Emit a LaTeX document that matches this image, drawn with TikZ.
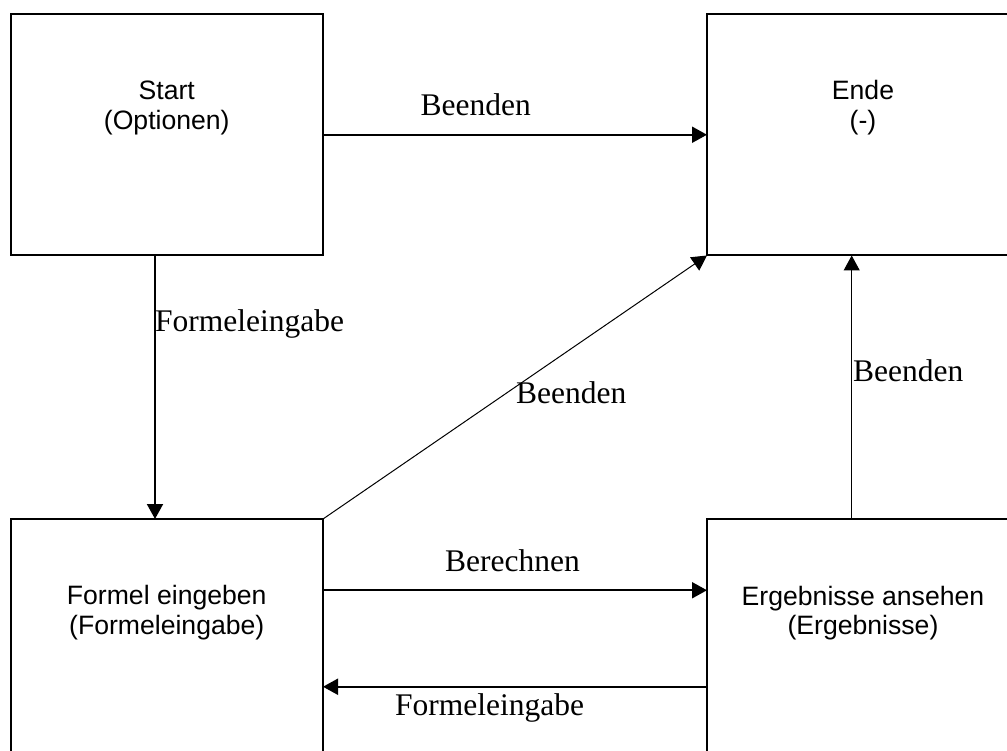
\documentclass[tikz,border=0pt]{standalone}
\usepackage{fontspec}
\setmainfont{Liberation Serif}
\newfontfamily\statefont{Liberation Sans}
\usetikzlibrary{arrows.meta}
\begin{document}
\begin{tikzpicture}[x=1pt,y=-1pt,
  state/.style={draw, line width=2pt, inner sep=0pt, outer sep=0pt,
    anchor=north west, minimum height=241.5pt},
  statetxt/.style={anchor=base, inner sep=0pt,
    font=\statefont\fontsize{26.6}{30}\selectfont},
  edgetxt/.style={anchor=base west, inner sep=0pt,
    font=\fontsize{31.5}{36}\selectfont},
  arr/.style={line width=2pt, -{Triangle[length=15pt,width=16pt]}},
  arrthin/.style={line width=1pt, -{Triangle[length=15pt,width=16pt]}}
]
\useasboundingbox (0,0) rectangle (1007,751);
\fill[white] (0,0) rectangle (1007,751);
\clip (0,0) rectangle (1007,751);

% states
\node[state, minimum width=312.5pt] (start) at (10.5,14) {};
\node[state, minimum width=312pt]   (ende)  at (707,14) {};
\node[state, minimum width=312.5pt] (form)  at (10.5,519) {};
\node[state, minimum width=312pt]   (erg)   at (707,519) {};

% state captions
\node[statetxt] (start1) at (166.75,100)   {Start};
\node[statetxt] (start2) at (166.75,129.5) {(Optionen)};
\node[statetxt] (ende1)  at (863,100)      {Ende};
\node[statetxt] (ende2)  at (863,129.5)    {(-)};
\node[statetxt] (form1)  at (166.75,604)   {Formel eingeben};
\node[statetxt] (form2)  at (166.75,634)   {(Formeleingabe)};
\node[statetxt] (erg1)   at (863,605)      {Ergebnisse ansehen};
\node[statetxt] (erg2)   at (863,634.5)    {(Ergebnisse)};

% transitions
\draw[arr] (start.east) -- (ende.west);
\draw[arr] ([xshift=-11.75pt]start.south) -- ([xshift=-11.75pt]form.north);
\draw[arrthin] (form.north east) -- (ende.south west);
\draw[arrthin] ([xshift=-11.3pt]erg.north) -- ([xshift=-11.3pt]ende.south);
\draw[arr] ([yshift=49.5pt]form.east) -- ([yshift=49.5pt]erg.west);
\draw[arr] ([yshift=-47pt]erg.west) -- ([yshift=-47pt]form.east);

% transition labels
\node[edgetxt] (lb1) at (420.5,116)   {Beenden};
\node[edgetxt] (lf1) at (155,331.7)   {Formeleingabe};
\node[edgetxt] (lb2) at (516,403)     {Beenden};
\node[edgetxt] (lb3) at (853,381.7)   {Beenden};
\node[edgetxt] (lbr) at (445,571.7)   {Berechnen};
\node[edgetxt] (lf2) at (395,715)     {Formeleingabe};
\end{tikzpicture}
\end{document}
